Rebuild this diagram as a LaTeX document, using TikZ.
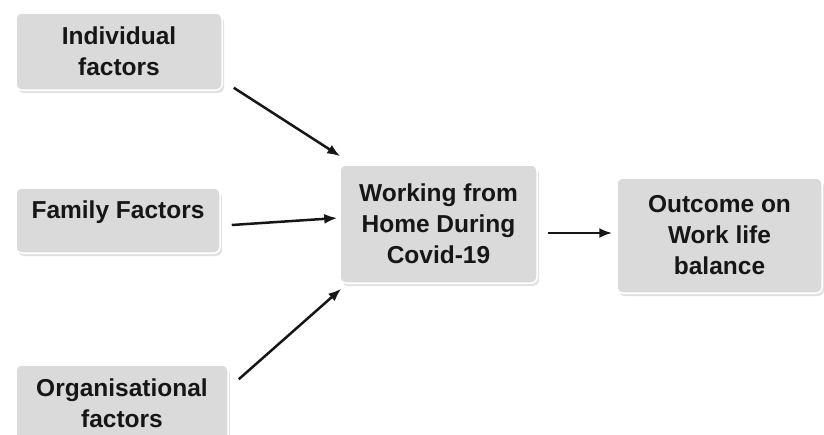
\documentclass[tikz,border=0pt]{standalone}
\usepackage{fontspec}
\setmainfont{Liberation Sans}
\usetikzlibrary{arrows.meta,shadows,calc}
\definecolor{boxfill}{HTML}{DADADA}
\definecolor{shadowc}{HTML}{CFCFCF}
\definecolor{txt}{HTML}{161616}
\begin{document}
\begin{tikzpicture}[x=1pt,y=-1pt,
  box/.style={rectangle, rounded corners=6pt, fill=boxfill, draw=white, line width=1.5pt,
    drop shadow={shadow xshift=2pt, shadow yshift=-3pt, fill=shadowc, opacity=0.6},
    align=center, text=txt, inner sep=0pt,
    font=\fontsize{24.5}{31}\selectfont\bfseries},
  arr/.style={-{Latex[length=13pt,width=10pt]}, line width=2.5pt, draw=txt}]
\useasboundingbox (0,0) rectangle (824,434);
\node[box, minimum width=206pt, minimum height=77pt] (ind) at (119,51.5) {Individual\\factors};
\node[box, minimum width=204pt, minimum height=65pt, text depth=22pt] (fam) at (118,220.5) {Family Factors};
\node[box, minimum width=212pt, minimum height=76pt] (org) at (122,403) {Organisational\\factors};
\node[box, minimum width=197pt, minimum height=118pt] (work) at (438.5,224) {Working from\\Home During\\Covid-19};
\node[box, minimum width=205pt, minimum height=115pt] (out) at (719.5,235.5) {Outcome on\\Work life\\balance};
\draw[arr] ($(ind.south east)+(11,-3)$) -- ($(work.north west)+(1,-8)$);
\draw[arr] ($(fam.east)+(11,4.5)$) -- ($(work.west)+(-2,-6)$);
\draw[arr] ($(org.north east)+(10,15)$) -- ($(work.south west)+(2,5)$);
\draw[arr] ($(work.east)+(10,9)$) -- ($(out.west)+(-4,-2.5)$);
\end{tikzpicture}
\end{document}
